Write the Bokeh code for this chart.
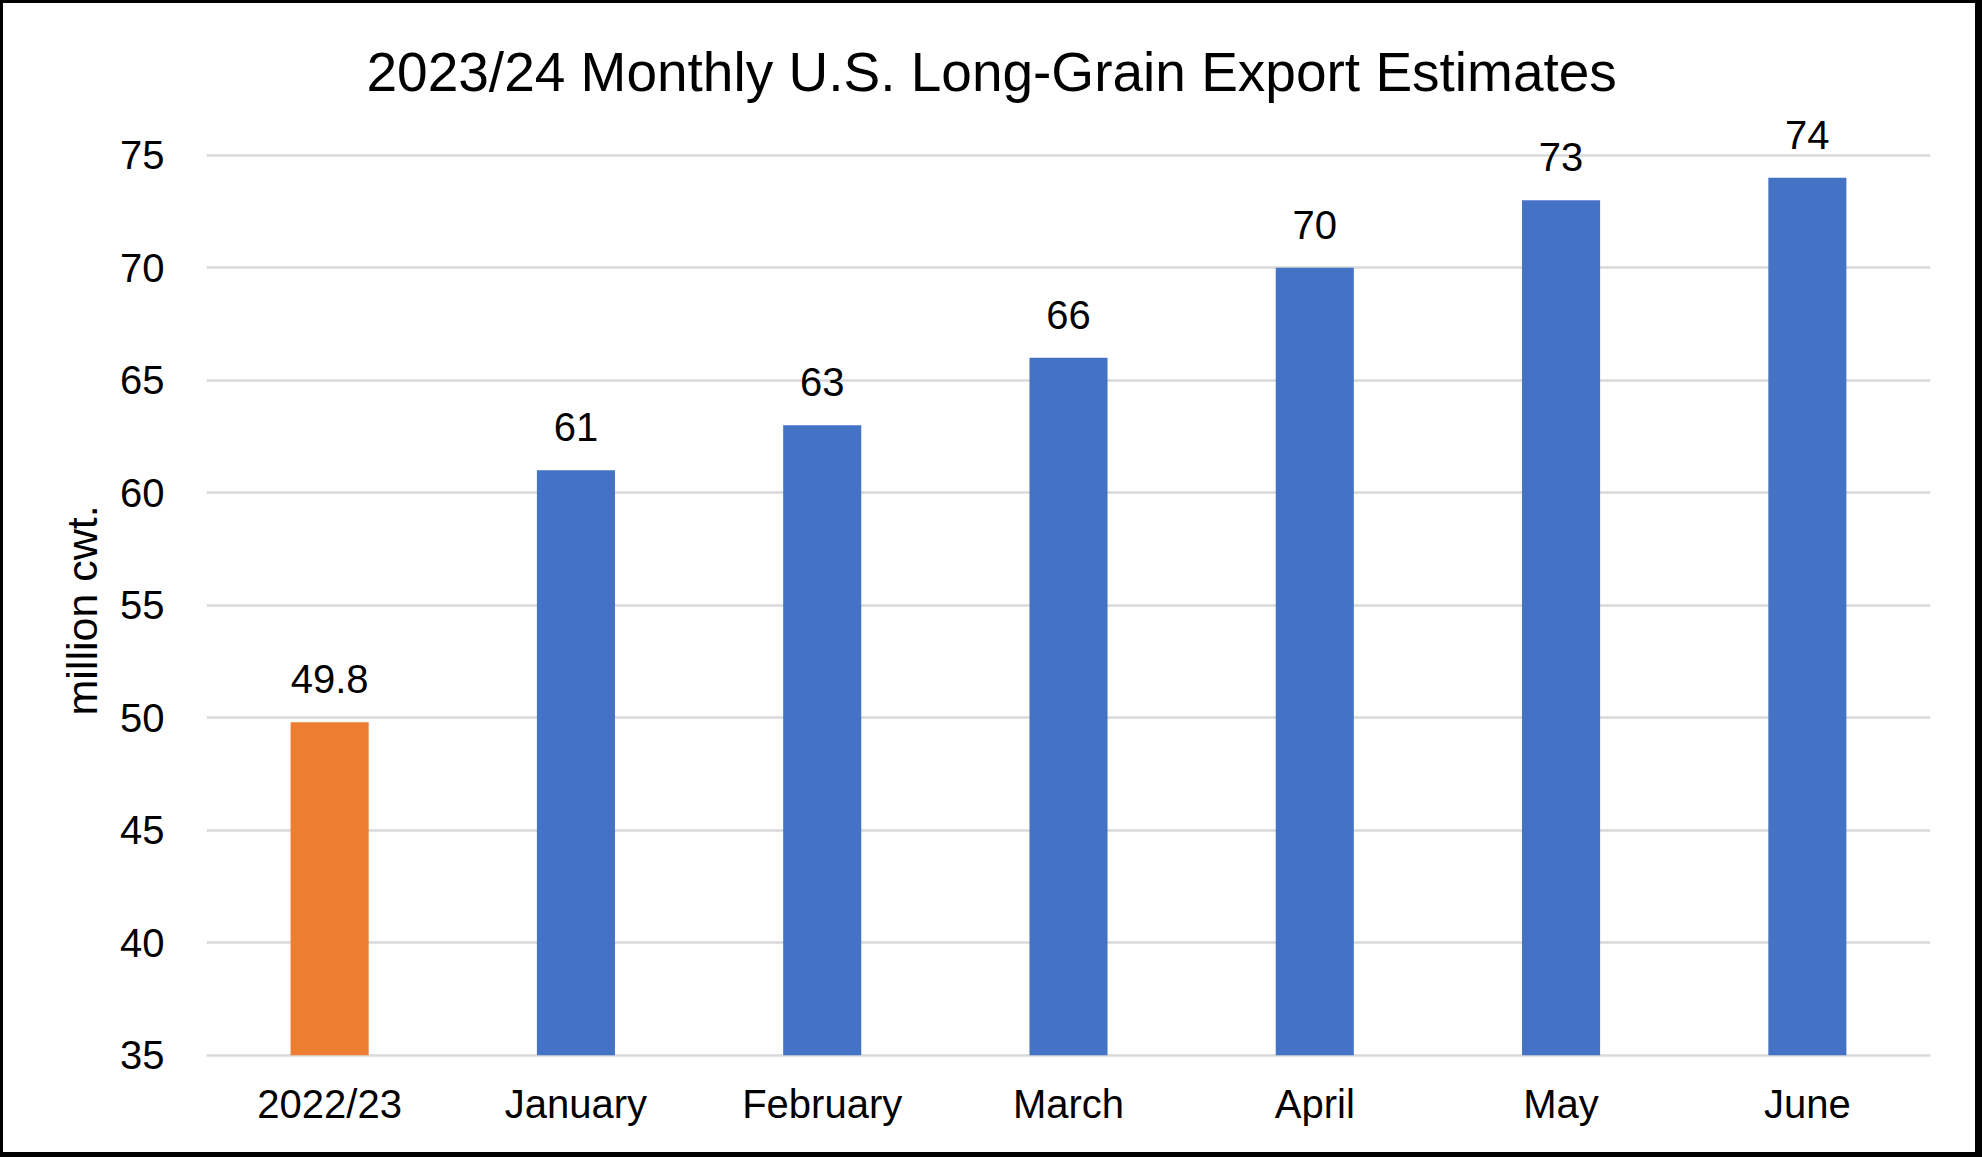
from bokeh.plotting import figure
from bokeh.models import ColumnDataSource, FactorRange, Range1d, FixedTicker, LabelSet, Title
from bokeh.core.properties import value
from bokeh.embed import file_html
from bokeh.resources import INLINE

categories = ["2022/23", "January", "February", "March", "April", "May", "June"]
values = [49.8, 61, 63, 66, 70, 73, 74]
label_texts = ["49.8", "61", "63", "66", "70", "73", "74"]
bar_colors = ["#ED7D31", "#4472C4", "#4472C4", "#4472C4", "#4472C4", "#4472C4", "#4472C4"]
y_ticks = [35, 40, 45, 50, 55, 60, 65, 70, 75]
title_text = "2023/24 Monthly U.S. Long-Grain Export Estimates"
y_label = "million cwt."

FONT = "Liberation Sans"
W, H = 1982, 1157

src = ColumnDataSource(dict(cat=categories, val=values, lab=label_texts, col=bar_colors))

p = figure(
    width=W, height=H,
    x_range=FactorRange(*categories),
    y_range=Range1d(34.9, 76.9),
    output_backend="svg", toolbar_location=None,
    min_border_left=203, min_border_right=55,
    min_border_top=109, min_border_bottom=103,
)
p.styles = {"border-style": "solid", "border-color": "black",
            "border-width": "3px 7px 5px 3px"}

p.vbar(x="cat", top="val", bottom=35, width=0.317, fill_color="col",
       line_color=None, source=src)

labels = LabelSet(x="cat", y="val", text="lab", source=src, text_font=value(FONT),
                  text_font_size="40px", text_color="black", text_align="center",
                  text_baseline="alphabetic", y_offset=29)
p.add_layout(labels)

main_title = Title(text=title_text, align="left", offset=160, text_font=FONT,
                   text_font_size="55px", text_font_style="normal",
                   text_color="black", standoff=19)
p.add_layout(main_title, "above")

p.outline_line_color = None
p.xgrid.grid_line_color = None
p.ygrid.grid_line_color = "#D9D9D9"
p.ygrid.grid_line_width = 2.5

p.yaxis.ticker = FixedTicker(ticks=y_ticks)
p.yaxis.axis_line_color = None
p.yaxis.major_tick_line_color = None
p.yaxis.minor_tick_line_color = None
p.yaxis.major_label_text_font = FONT
p.yaxis.major_label_text_font_size = "40px"
p.yaxis.major_label_text_color = "black"
p.yaxis.major_label_standoff = 36

y_title = Title(text=y_label, align="left", offset=342, text_font=FONT,
                text_font_size="43px", text_font_style="normal",
                text_color="black", standoff=24)
p.add_layout(y_title, "left")

p.xaxis.axis_line_color = None
p.xaxis.major_tick_line_color = None
p.xaxis.minor_tick_line_color = None
p.xaxis.major_label_text_font = FONT
p.xaxis.major_label_text_font_size = "40px"
p.xaxis.major_label_text_color = "black"
p.xaxis.major_label_standoff = 18

p.background_fill_color = "white"
p.border_fill_color = "white"

open("out.html", "w").write(file_html(p, INLINE))
